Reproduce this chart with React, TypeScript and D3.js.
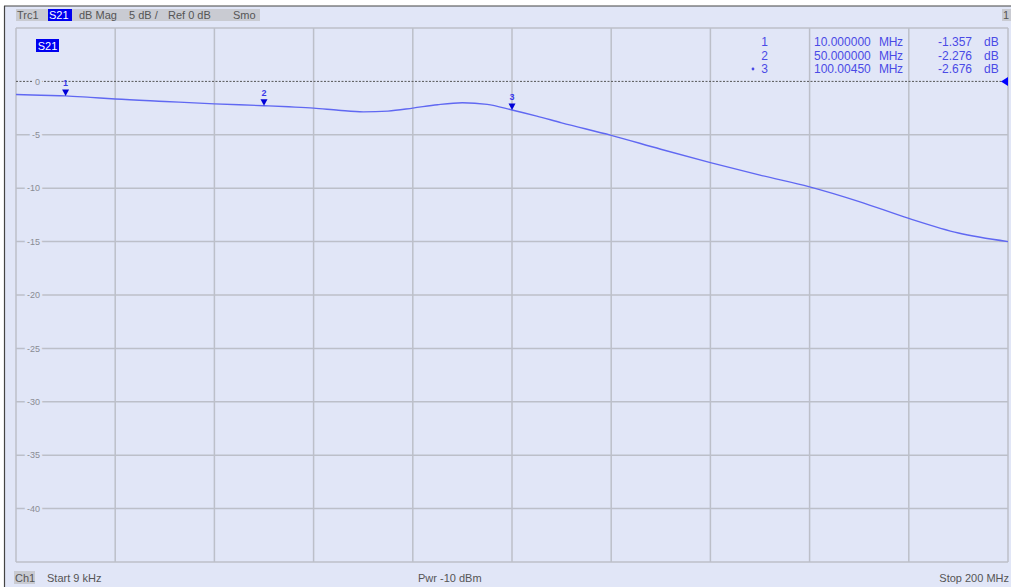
import React, { useEffect, useRef } from 'react';
import * as d3 from 'd3';

// Trace S21, dB Mag (MHz, dB)
const freqs = [0.009, 5, 10, 15, 20, 30, 40, 50, 55, 60, 65, 70, 75, 80, 85, 90, 95, 100, 105, 110, 120, 130, 140, 150, 160, 170, 180, 190, 200];
const s21 = [-1.22, -1.3, -1.357, -1.5, -1.65, -1.88, -2.1, -2.276, -2.38, -2.5, -2.7, -2.85, -2.78, -2.5, -2.18, -2.0, -2.15, -2.676, -3.25, -3.88, -5.05, -6.35, -7.6, -8.78, -9.87, -11.25, -12.83, -14.2, -15.0];

// Markers
const markerIds = ['1', '2', '3'];
const markerFreqs = [10, 50, 100.0045];
const markerVals = [-1.357, -2.276, -2.676];
const markerFreqText = ['10.000000', '50.000000', '100.00450'];

const yTicks = [0, -5, -10, -15, -20, -25, -30, -35, -40];
const xDivs = d3.range(0, 201, 20);
const yDivs = d3.range(5, -46, -5);

const App: React.FC = () => {
    const ref = useRef<SVGSVGElement>(null);

    useEffect(() => {
        const svg = d3.select(ref.current);
        svg.selectAll('*').remove();

        const width = 1011;
        const height = 587;
        const left = 16, right = 1008, top = 28, bottom = 562;
        const bg = '#e1e6f7';
        const gridCol = '#bcbfc9';
        const font = 'Liberation Sans, Arial, sans-serif';

        svg.attr('viewBox', [0, 0, width, height]).style('font-family', font);

        // page background and frame
        svg.append('rect').attr('width', width).attr('height', height).attr('fill', '#ffffff');
        svg.append('rect').attr('x', 4).attr('y', 6).attr('width', width - 4).attr('height', height - 6).attr('fill', bg);
        svg.append('line').attr('x1', 4).attr('x2', width).attr('y1', 6).attr('y2', 6).attr('stroke', '#444').attr('stroke-width', 1.2);
        svg.append('line').attr('x1', 4.5).attr('x2', 4.5).attr('y1', 6).attr('y2', height).attr('stroke', '#444').attr('stroke-width', 1.2);

        const x = d3.scaleLinear().domain([0, 200]).range([left, right]);
        const y = d3.scaleLinear().domain([5, -45]).range([top, bottom]);

        // grid
        const grid = svg.append('g').attr('stroke', gridCol).attr('stroke-width', 1.5);
        grid.selectAll('line.v').data(xDivs).join('line')
            .attr('class', 'v')
            .attr('x1', d => x(d)).attr('x2', d => x(d))
            .attr('y1', top).attr('y2', bottom);
        grid.selectAll('line.h').data(yDivs.filter(d => d !== 0)).join('line')
            .attr('class', 'h')
            .attr('y1', d => y(d)).attr('y2', d => y(d))
            .attr('x1', left).attr('x2', right);

        // reference line (0 dB)
        svg.append('line')
            .attr('x1', left).attr('x2', right)
            .attr('y1', y(0)).attr('y2', y(0))
            .attr('stroke', '#555').attr('stroke-width', 1).attr('stroke-dasharray', '2,1.5');

        // y tick labels sitting on the grid
        svg.append('g').selectAll('text').data(yTicks).join('text')
            .attr('x', 40).attr('y', d => y(d)).attr('dy', '0.35em')
            .attr('text-anchor', 'end')
            .attr('font-size', 9).attr('fill', '#8a8c94')
            .attr('stroke', bg).attr('stroke-width', 5).attr('paint-order', 'stroke')
            .text(d => d);

        // trace
        const line = d3.line<number>()
            .x((d, i) => x(freqs[i]))
            .y(d => y(d))
            .curve(d3.curveMonotoneX);
        svg.append('path')
            .datum(s21)
            .attr('d', line)
            .attr('fill', 'none')
            .attr('stroke', '#6068f2')
            .attr('stroke-width', 1.4);

        // markers
        const mk = svg.append('g').selectAll('g').data(markerIds).join('g')
            .attr('transform', (d, i) => `translate(${x(markerFreqs[i])},${y(markerVals[i])})`);
        mk.append('path')
            .attr('d', 'M-3.5,-6.5 L3.5,-6.5 L0,0 Z')
            .attr('fill', '#0000d8');
        mk.append('text')
            .attr('y', -10)
            .attr('text-anchor', 'middle')
            .attr('font-size', 9).attr('font-weight', 'bold')
            .attr('fill', '#3a3ae8')
            .text(d => d);

        // reference arrow at right edge
        svg.append('path')
            .attr('d', `M${right},${y(0) - 4.5} L${right - 7},${y(0)} L${right},${y(0) + 4.5} Z`)
            .attr('fill', '#0000ff');

        // marker table
        const tableCol = '#4a4ae6';
        const rowsY = [46, 59.5, 73];
        const table = svg.append('g').attr('font-size', 12).attr('fill', tableCol);
        markerIds.forEach((id, i) => {
            table.append('text').attr('x', 768).attr('y', rowsY[i]).attr('text-anchor', 'end').text(id);
            table.append('text').attr('x', 814).attr('y', rowsY[i]).text(markerFreqText[i]);
            table.append('text').attr('x', 879).attr('y', rowsY[i]).attr('textLength', 24).text('MHz');
            table.append('text').attr('x', 972).attr('y', rowsY[i]).attr('text-anchor', 'end').text(markerVals[i].toFixed(3));
            table.append('text').attr('x', 984).attr('y', rowsY[i]).text('dB');
        });
        table.append('circle').attr('cx', 753).attr('cy', rowsY[2] - 4).attr('r', 1.4).attr('fill', tableCol);

        // trace label inside diagram
        svg.append('rect').attr('x', 36).attr('y', 39).attr('width', 23).attr('height', 13).attr('fill', '#0000f0');
        svg.append('text').attr('x', 47.5).attr('y', 49.5).attr('text-anchor', 'middle')
            .attr('font-size', 11).attr('fill', '#fff').text('S21');

        // header line
        const hdr = svg.append('g').attr('font-size', 11).attr('fill', '#555');
        hdr.append('rect').attr('x', 16).attr('y', 9).attr('width', 244).attr('height', 12).attr('fill', '#c9cbd2');
        hdr.append('rect').attr('x', 48).attr('y', 9).attr('width', 24).attr('height', 12).attr('fill', '#0000f0');
        hdr.append('text').attr('x', 17).attr('y', 19).text('Trc1');
        hdr.append('text').attr('x', 49).attr('y', 19).attr('fill', '#fff').text('S21');
        hdr.append('text').attr('x', 79).attr('y', 19).text('dB Mag');
        hdr.append('text').attr('x', 129).attr('y', 19).text('5 dB /');
        hdr.append('text').attr('x', 168).attr('y', 19).text('Ref 0 dB');
        hdr.append('text').attr('x', 233).attr('y', 19).text('Smo');
        hdr.append('rect').attr('x', 1002).attr('y', 9).attr('width', 9).attr('height', 12).attr('fill', '#c9cbd2');
        hdr.append('text').attr('x', 1009).attr('y', 19).attr('text-anchor', 'end').text('1');

        // footer
        const ftr = svg.append('g').attr('font-size', 11).attr('fill', '#555');
        ftr.append('rect').attr('x', 14).attr('y', 571).attr('width', 21).attr('height', 13).attr('fill', '#c9cbd2');
        ftr.append('text').attr('x', 15).attr('y', 582).text('Ch1');
        ftr.append('text').attr('x', 47).attr('y', 582).text('Start  9 kHz');
        ftr.append('text').attr('x', 418).attr('y', 582).text('Pwr  -10 dBm');
        ftr.append('text').attr('x', 1009).attr('y', 582).attr('text-anchor', 'end').text('Stop  200 MHz');
    }, []);

    return (
        <svg ref={ref} width={1011} height={587} style={{ position: 'absolute', left: 0, top: 0 }} />
    );
};

export default App;
